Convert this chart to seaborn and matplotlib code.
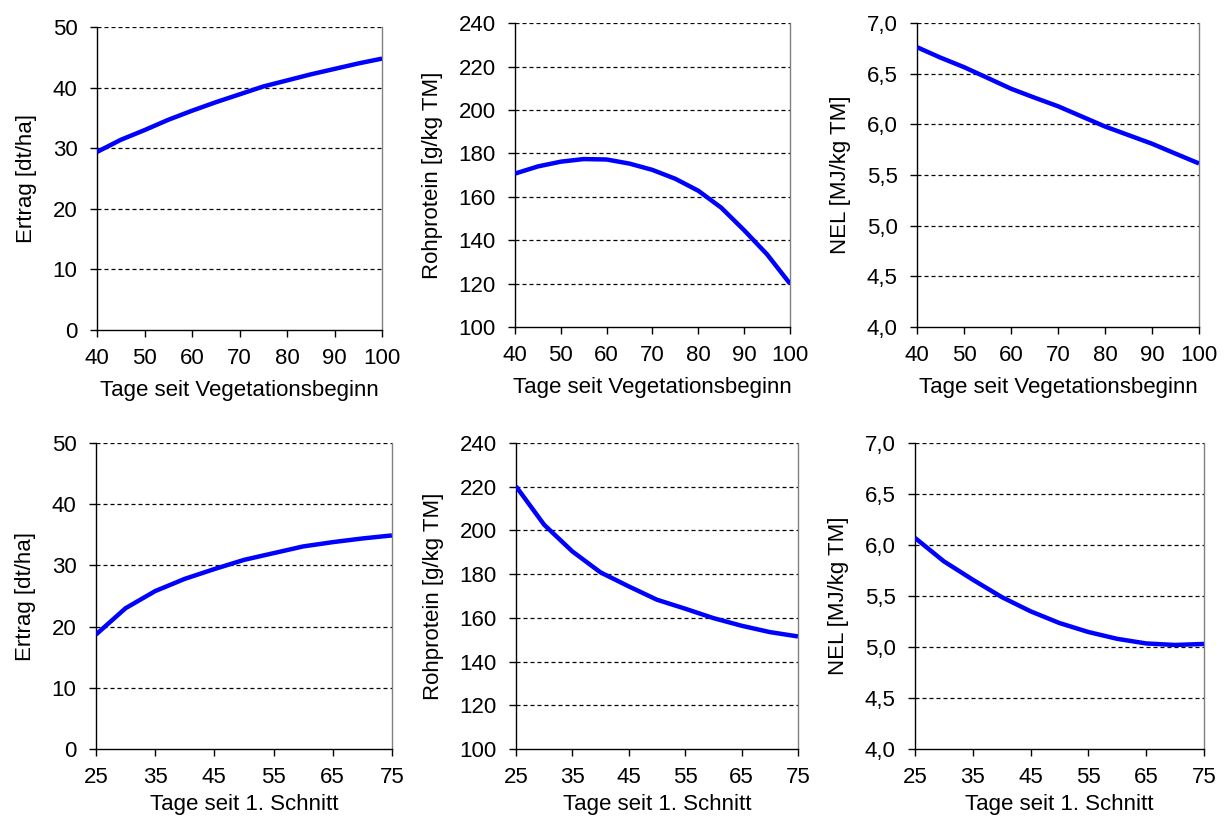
import matplotlib
matplotlib.use("Agg")
import matplotlib.pyplot as plt
from matplotlib.ticker import FuncFormatter
import seaborn as sns
import pandas as pd

# Erster Aufwuchs: Tage seit Vegetationsbeginn
tage_veg = [40, 45, 50, 55, 60, 65, 70, 75, 80, 85, 90, 95, 100]
ertrag_veg = [29.4, 31.4, 33.0, 34.7, 36.2, 37.6, 38.9, 40.2, 41.2, 42.2, 43.1, 44.0, 44.8]
rp_veg = [170.7, 174.0, 176.2, 177.4, 177.2, 175.3, 172.4, 168.3, 162.8, 155.0, 144.6, 133.5, 120.0]
nel_veg = [6.763, 6.660, 6.566, 6.460, 6.353, 6.265, 6.180, 6.080, 5.980, 5.895, 5.810, 5.712, 5.615]

# Folgeaufwuchs: Tage seit 1. Schnitt
tage_schnitt = [25, 30, 35, 40, 45, 50, 55, 60, 65, 70, 75]
ertrag_schnitt = [18.7, 23.0, 25.8, 27.8, 29.4, 30.9, 32.0, 33.1, 33.8, 34.4, 34.9]
rp_schnitt = [220.2, 202.6, 190.4, 180.8, 174.4, 168.3, 164.2, 159.9, 156.4, 153.5, 151.5]
nel_schnitt = [6.07, 5.84, 5.66, 5.49, 5.35, 5.235, 5.147, 5.08, 5.035, 5.02, 5.03]

x_label_veg = "Tage seit Vegetationsbeginn"
x_label_schnitt = "Tage seit 1. Schnitt"
y_labels = ["Ertrag [dt/ha]", "Rohprotein [g/kg TM]", "NEL [MJ/kg TM]"]

sns.set_style("white")
plt.rcParams["font.family"] = ["Liberation Sans", "DejaVu Sans"]
plt.rcParams["text.color"] = "black"
plt.rcParams["axes.labelcolor"] = "black"
plt.rcParams["xtick.color"] = "black"
plt.rcParams["ytick.color"] = "black"

fig = plt.figure(figsize=(12.27, 8.21), dpi=100)

# axes rectangles in figure coordinates
rects = [
    [0.0791, 0.598, 0.2323, 0.369],
    [0.4197, 0.6017, 0.2241, 0.370],
    [0.7474, 0.6017, 0.2298, 0.370],
    [0.0782, 0.0877, 0.2412, 0.3727],
    [0.4205, 0.0877, 0.2298, 0.3727],
    [0.7457, 0.0877, 0.2355, 0.3727],
]

panels = [
    (tage_veg, ertrag_veg, y_labels[0], x_label_veg, (0, 50), 10, (40, 100), 10, False),
    (tage_veg, rp_veg, y_labels[1], x_label_veg, (100, 240), 20, (40, 100), 10, False),
    (tage_veg, nel_veg, y_labels[2], x_label_veg, (4.0, 7.0), 0.5, (40, 100), 10, True),
    (tage_schnitt, ertrag_schnitt, y_labels[0], x_label_schnitt, (0, 50), 10, (25, 75), 10, False),
    (tage_schnitt, rp_schnitt, y_labels[1], x_label_schnitt, (100, 240), 20, (25, 75), 10, False),
    (tage_schnitt, nel_schnitt, y_labels[2], x_label_schnitt, (4.0, 7.0), 0.5, (25, 75), 10, True),
]

fs = 16

for i, (rect, (xs, ys, ylab, xlab, ylim, ystep, xlim, xstep, comma)) in enumerate(zip(rects, panels)):
    ax = fig.add_axes(rect)
    df = pd.DataFrame({"x": xs, "y": ys})
    sns.lineplot(data=df, x="x", y="y", ax=ax, color="#0000ff", linewidth=3.2,
                 solid_capstyle="butt", zorder=5)
    ax.set_xlim(*xlim)
    ax.set_ylim(*ylim)
    n_y = int(round((ylim[1] - ylim[0]) / ystep))
    yticks = [ylim[0] + k * ystep for k in range(n_y + 1)]
    n_x = int(round((xlim[1] - xlim[0]) / xstep))
    xticks = [xlim[0] + k * xstep for k in range(n_x + 1)]
    ax.set_yticks(yticks)
    ax.set_xticks(xticks)
    if comma:
        ax.yaxis.set_major_formatter(FuncFormatter(lambda v, p: f"{v:.1f}".replace(".", ",")))
    else:
        ax.yaxis.set_major_formatter(FuncFormatter(lambda v, p: f"{v:.0f}"))
    ax.xaxis.set_major_formatter(FuncFormatter(lambda v, p: f"{v:.0f}"))

    # dashed horizontal gridlines (the bottom one coincides with the axis)
    for yt in yticks[1:]:
        ax.axhline(yt, color="black", linestyle=(0, (3.2, 2.4)), linewidth=0.9, zorder=1)

    ax.spines["top"].set_visible(False)
    ax.spines["right"].set_color("#808080")
    ax.spines["right"].set_linewidth(1.0)
    for s in ("left", "bottom"):
        ax.spines[s].set_color("black")
        ax.spines[s].set_linewidth(1.0)

    ax.tick_params(axis="both", direction="out", length=5, width=1.0, color="black",
                   labelsize=fs, labelcolor="black")
    ax.tick_params(axis="y", left=True, pad=9)
    ax.tick_params(axis="x", bottom=True, pad=8)

    ax.set_xlabel(xlab, fontsize=fs, labelpad=8 if i < 3 else 4, color="black")
    ax.set_ylabel(ylab, fontsize=fs, labelpad=11, color="black")
    ax.grid(False)
    ax.set_facecolor("white")

fig.savefig("out.png", dpi=100, facecolor="white")
